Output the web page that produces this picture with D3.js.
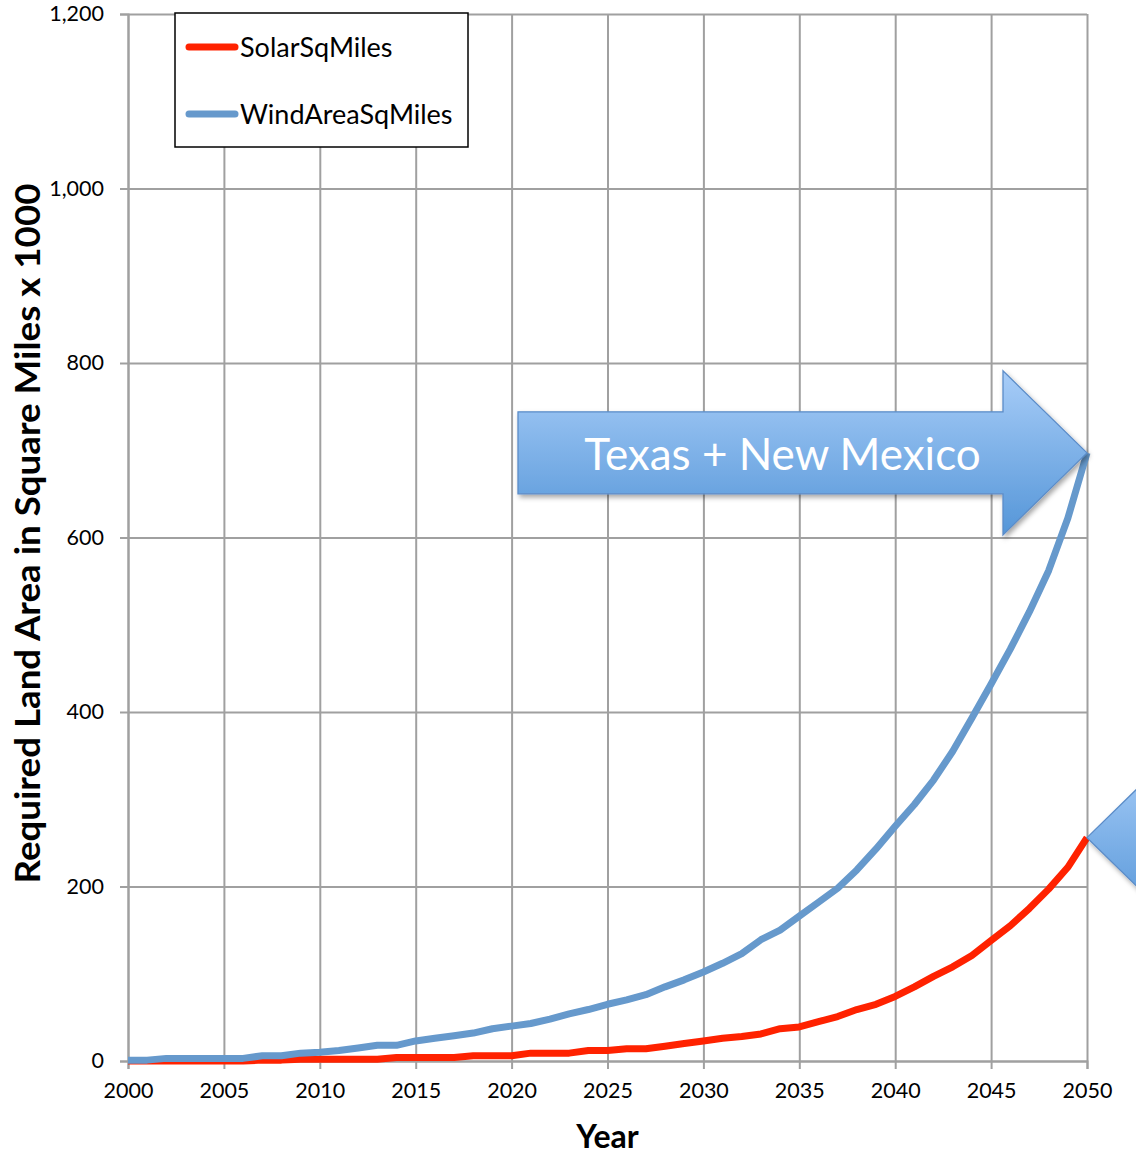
<!DOCTYPE html>
<html>
<head>
<meta charset="utf-8">
<script src="https://cdn.jsdelivr.net/npm/d3@7"></script>
<style>
  body { margin: 0; background: #fff; }
  svg { display: block; font-family: Lato, "Open Sans", sans-serif; }
</style>
</head>
<body>
<div id="chart"></div>
<script>
// values (thousands of square miles)
const years = d3.range(2000, 2051);
const solar = [0, 0, 0, 0, 0, 0, 0, 1, 1, 2, 2, 2, 2, 2, 4, 4, 4, 4, 6, 6,
  6, 9, 9, 9, 12, 12, 14, 14, 17, 20, 23, 26, 28, 31, 37, 39, 45, 51, 59, 65,
  74, 85, 97, 108, 121, 138, 155, 175, 197, 222, 256];
const wind = [1, 1, 3, 3, 3, 3, 3, 6, 6, 9, 10, 12, 15, 18, 18, 23, 26, 29, 32, 37,
  40, 43, 48, 54, 59, 65, 70, 76, 85, 93, 102, 112, 123, 139, 150, 166, 182, 198, 219, 243,
  269, 294, 322, 355, 393, 432, 472, 515, 562, 622, 697];
const seriesNames = ['SolarSqMiles', 'WindAreaSqMiles'];
const seriesColors = ['#ff2200', '#6699cc'];
const yTicks = [0, 200, 400, 600, 800, 1000, 1200];
const xTicks = d3.range(2000, 2051, 5);
const yTitle = 'Required Land Area in Square Miles x 1000';
const xTitle = 'Year';
const arrowLabel = 'Texas + New Mexico';

const width = 1136, height = 1165;
const margin = { top: 14, right: 49, bottom: 104, left: 128 };

const svg = d3.select('#chart').append('svg')
  .attr('width', width)
  .attr('height', height);

const x = d3.scaleLinear().domain([2000, 2050]).range([margin.left, width - margin.right]);
const y = d3.scaleLinear().domain([0, 1200]).range([height - margin.bottom, margin.top]);

const defs = svg.append('defs');
const grad = defs.append('linearGradient').attr('id', 'arrowGrad')
  .attr('x1', 0).attr('y1', 0).attr('x2', 0).attr('y2', 1);
grad.append('stop').attr('offset', '0%').attr('stop-color', '#a8cdf8');
grad.append('stop').attr('offset', '100%').attr('stop-color', '#5596d8');
const shadow = defs.append('filter').attr('id', 'shadow')
  .attr('x', '-10%').attr('y', '-10%').attr('width', '130%').attr('height', '130%');
shadow.append('feDropShadow').attr('dx', 2).attr('dy', 3).attr('stdDeviation', 2.5)
  .attr('flood-color', '#000').attr('flood-opacity', 0.35);

// grid
const gridColor = '#a0a0a0';
svg.append('g').attr('class', 'grid-y')
  .attr('transform', `translate(${margin.left},0)`)
  .call(d3.axisLeft(y).tickValues(yTicks).tickSize(-(width - margin.left - margin.right)).tickFormat(''))
  .call(g => g.select('.domain').remove())
  .call(g => g.selectAll('line').attr('stroke', gridColor).attr('stroke-width', 2));

svg.append('g').attr('class', 'grid-x')
  .attr('transform', `translate(0,${height - margin.bottom})`)
  .call(d3.axisBottom(x).tickValues(xTicks).tickSize(-(height - margin.top - margin.bottom)).tickFormat(''))
  .call(g => g.select('.domain').remove())
  .call(g => g.selectAll('line').attr('stroke', gridColor).attr('stroke-width', 2));

// axes
const yAxis = svg.append('g')
  .attr('transform', `translate(${margin.left},0)`)
  .call(d3.axisLeft(y).tickValues(yTicks).tickSize(8).tickPadding(16).tickFormat(d3.format(',')));
const xAxis = svg.append('g')
  .attr('transform', `translate(0,${height - margin.bottom})`)
  .call(d3.axisBottom(x).tickValues(xTicks).tickSize(8).tickPadding(14).tickFormat(d3.format('d')));
[yAxis, xAxis].forEach(g => {
  g.select('.domain').attr('stroke', gridColor).attr('stroke-width', 2);
  g.selectAll('.tick line').attr('stroke', gridColor).attr('stroke-width', 2);
  g.selectAll('.tick text').attr('fill', '#000').style('font-size', '21.5px')
    .style('font-family', 'Lato, "Open Sans", sans-serif');
});

// titles
svg.append('text')
  .attr('transform', `translate(40,${y(600) - 4}) rotate(-90)`)
  .attr('text-anchor', 'middle')
  .attr('textLength', 700).attr('lengthAdjust', 'spacingAndGlyphs')
  .style('font-size', '35px').style('font-weight', 'bold')
  .text(yTitle);
svg.append('text')
  .attr('x', x(2025)).attr('y', 1148)
  .attr('text-anchor', 'middle')
  .style('font-size', '32px').style('font-weight', 'bold')
  .text(xTitle);

// lines
const line = d3.line().x((d, i) => x(years[i])).y(d => y(d));
[solar, wind].forEach((vals, i) => {
  svg.append('path')
    .datum(vals)
    .attr('fill', 'none')
    .attr('stroke', seriesColors[i])
    .attr('stroke-width', 7)
    .attr('stroke-linejoin', 'round')
    .attr('d', line);
});

// arrows
function arrowPath(tipX, tipY, dir, bodyLen, headLen, bodyHalf, headHalf) {
  const neckX = tipX - dir * headLen;
  const tailX = neckX - dir * bodyLen;
  return `M${tipX},${tipY} L${neckX},${tipY - headHalf} L${neckX},${tipY - bodyHalf}` +
    ` L${tailX},${tipY - bodyHalf} L${tailX},${tipY + bodyHalf} L${neckX},${tipY + bodyHalf}` +
    ` L${neckX},${tipY + headHalf} Z`;
}
const tip1 = [x(2050), y(wind[50])];
svg.append('path')
  .attr('d', arrowPath(tip1[0], tip1[1], 1, 485, 84, 41, 82))
  .attr('fill', 'url(#arrowGrad)')
  .attr('stroke', '#5b8cc8').attr('stroke-width', 1.3)
  .attr('filter', 'url(#shadow)');
svg.append('text')
  .attr('x', tip1[0] - 84 - 485 / 2 + 22).attr('y', tip1[1] + 17)
  .attr('text-anchor', 'middle')
  .attr('fill', '#fff')
  .style('font-size', '44px')
  .text(arrowLabel);

const tip2 = [x(2050), y(solar[50])];
svg.append('path')
  .attr('d', arrowPath(tip2[0], tip2[1], -1, 485, 84, 41, 82))
  .attr('fill', 'url(#arrowGrad)')
  .attr('stroke', '#5b8cc8').attr('stroke-width', 1.3)
  .attr('filter', 'url(#shadow)');

// legend
const legend = svg.append('g');
legend.append('rect')
  .attr('x', 175).attr('y', 13).attr('width', 293).attr('height', 134)
  .attr('fill', '#fff').attr('stroke', '#000').attr('stroke-width', 1.5);
seriesNames.forEach((name, i) => {
  const ly = 47 + i * 67;
  legend.append('line')
    .attr('x1', 189).attr('x2', 235).attr('y1', ly).attr('y2', ly)
    .attr('stroke', seriesColors[i]).attr('stroke-width', 7).attr('stroke-linecap', 'round');
  legend.append('text')
    .attr('x', 240).attr('y', ly + 10)
    .style('font-size', '27px')
    .text(name);
});
</script>
</body>
</html>
